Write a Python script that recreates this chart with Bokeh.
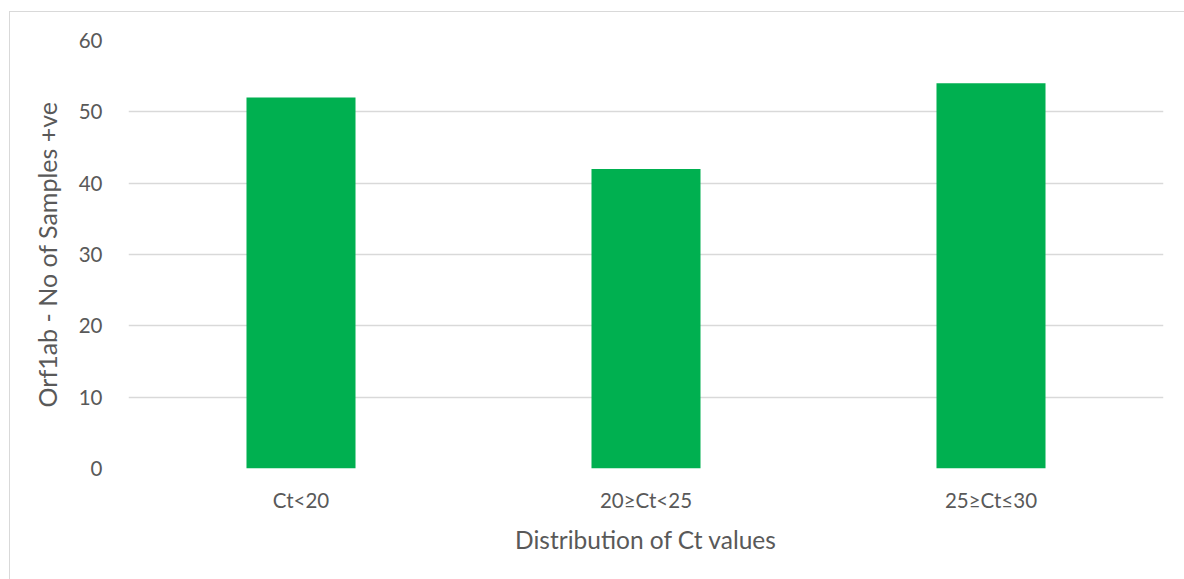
from bokeh.plotting import figure
from bokeh.models import Range1d, FixedTicker
from bokeh.embed import file_html
from bokeh.resources import INLINE

categories = ["Ct<20", "20\u2265Ct<25", "25\u2265Ct\u226430"]
samples = [52, 42, 54]
y_ticks = [0, 10, 20, 30, 40, 50, 60]

FONT = "Lato"
TXT = "#595959"

p = figure(x_range=categories, y_range=Range1d(0, 60), width=1175, height=568,
           output_backend="svg", toolbar_location=None,
           min_border_left=118, min_border_right=22, min_border_top=28, min_border_bottom=112)

p.vbar(x=categories, top=samples, width=0.316, color="#00B050", line_color=None)

p.outline_line_color = None
p.styles = {"margin-left": "9px", "margin-top": "11px",
            "border-left": "1px solid #d9d9d9", "border-top": "1px solid #d9d9d9"}
p.xgrid.grid_line_color = None
p.ygrid.grid_line_color = "#d9d9d9"
p.ygrid.grid_line_width = 1.5
p.yaxis.ticker = FixedTicker(ticks=y_ticks)

for ax in (p.xaxis[0], p.yaxis[0]):
    ax.axis_line_color = None
    ax.major_tick_line_color = None
    ax.minor_tick_line_color = None
    ax.major_label_text_font = FONT
    ax.major_label_text_color = TXT
    ax.major_label_text_font_size = "20.5px"
    ax.axis_label_text_font = FONT
    ax.axis_label_text_color = TXT
    ax.axis_label_text_font_style = "normal"

p.xaxis.axis_label = "Distribution of Ct values"
p.yaxis.axis_label = "Orf1ab - No of Samples +ve"
p.xaxis.axis_label_text_font_size = "24.5px"
p.yaxis.axis_label_text_font_size = "25px"
p.xaxis.major_label_standoff = 13
p.xaxis.axis_label_standoff = 10
p.yaxis.major_label_standoff = 20
p.yaxis.axis_label_standoff = 14

open("out.html", "w").write(file_html(p, INLINE))
